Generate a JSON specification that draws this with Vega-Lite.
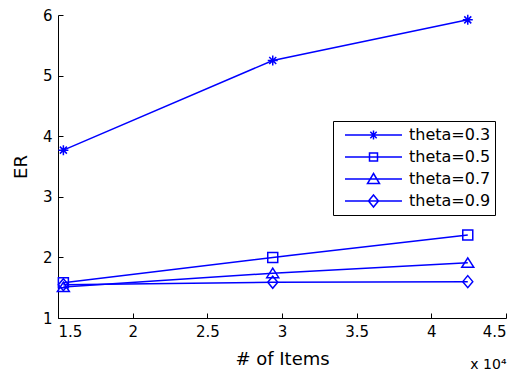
{
  "$schema": "https://vega.github.io/schema/vega-lite/v6.json",
  "width": 448,
  "height": 303,
  "autosize": "none",
  "padding": {"left": 58, "top": 15, "right": 15, "bottom": 53},
  "background": "white",
  "config": {
    "view": {"stroke": null},
    "font": "DejaVu Sans",
    "axis": {
      "grid": false,
      "domainColor": "black",
      "domainWidth": 1,
      "tickColor": "black",
      "tickWidth": 1,
      "tickSize": -5,
      "labelColor": "black",
      "labelFont": "DejaVu Sans",
      "labelFontSize": 15,
      "titleFont": "DejaVu Sans",
      "titleFontSize": 18,
      "titleFontWeight": "normal",
      "titleColor": "black"
    }
  },
  "title": {
    "text": "x 10⁴",
    "orient": "bottom",
    "anchor": "end",
    "font": "DejaVu Sans",
    "fontSize": 14,
    "fontWeight": "normal",
    "color": "black",
    "offset": -10
  },
  "data": {
    "values": [
      {"series": "theta=0.3", "items": 15360, "er": 3.77},
      {"series": "theta=0.3", "items": 29380, "er": 5.25},
      {"series": "theta=0.3", "items": 42440, "er": 5.92},
      {"series": "theta=0.5", "items": 15360, "er": 1.58},
      {"series": "theta=0.5", "items": 29380, "er": 2.0},
      {"series": "theta=0.5", "items": 42440, "er": 2.37},
      {"series": "theta=0.7", "items": 15360, "er": 1.51},
      {"series": "theta=0.7", "items": 29380, "er": 1.74},
      {"series": "theta=0.7", "items": 42440, "er": 1.91},
      {"series": "theta=0.9", "items": 15360, "er": 1.55},
      {"series": "theta=0.9", "items": 29380, "er": 1.59},
      {"series": "theta=0.9", "items": 42440, "er": 1.6}
    ]
  },
  "encoding": {
    "x": {
      "field": "items",
      "type": "quantitative",
      "scale": {"domain": [15000, 45000], "nice": false, "zero": false},
      "axis": {
        "values": [15000, 20000, 25000, 30000, 35000, 40000, 45000],
        "labelExpr": "format(datum.value / 10000, '.1~f')",
        "title": "# of Items",
        "labelPadding": 11,
        "titlePadding": 11
      }
    },
    "y": {
      "field": "er",
      "type": "quantitative",
      "scale": {"domain": [1, 6], "nice": false, "zero": false},
      "axis": {
        "values": [1, 2, 3, 4, 5, 6],
        "title": "ER",
        "labelPadding": 11,
        "titlePadding": 12
      }
    }
  },
  "layer": [
    {
      "mark": {"type": "line", "color": "#0000ff", "strokeWidth": 1.5},
      "encoding": {"detail": {"field": "series"}}
    },
    {
      "mark": {"type": "point", "filled": false, "color": "#0000ff", "strokeWidth": 1.5, "size": 100, "opacity": 1},
      "encoding": {
        "shape": {
          "field": "series",
          "type": "nominal",
          "scale": {
            "domain": ["theta=0.3", "theta=0.5", "theta=0.7", "theta=0.9"],
            "range": [
              "M-1,0H1M0,-1V1M-0.7,-0.7L0.7,0.7M-0.7,0.7L0.7,-0.7",
              "M-1,-1H1V1H-1Z",
              "M0,-1L1.2,0.9H-1.2Z",
              "M0,-1.2L1,0L0,1.2L-1,0Z"
            ]
          },
          "legend": null
        }
      }
    },
    {
      "mark": {"type": "point", "filled": false, "color": "#0000ff", "strokeWidth": 1.5, "size": 100, "opacity": 0},
      "encoding": {
        "shape": {
          "field": "series",
          "type": "nominal",
          "scale": {
            "domain": ["theta=0.3", "theta=0.5", "theta=0.7", "theta=0.9"],
            "range": [
              "M-0.222,0H6.111M2.944,-0.5V0.5M2.59,-0.354L3.298,0.354M2.59,0.354L3.298,-0.354",
              "M-0.222,0H6.111M2.5,-0.444H3.389V0.444H2.5Z",
              "M-0.222,0H6.111M2.944,-0.611L3.611,0.5H2.278Z",
              "M-0.222,0H6.111M2.944,-0.667L3.5,0L2.944,0.667L2.389,0Z"
            ]
          },
          "legend": {
            "orient": "none",
            "legendX": 275,
            "legendY": 106,
            "title": null,
            "strokeColor": "black",
            "fillColor": "white",
            "padding": 4,
            "symbolSize": 324,
            "symbolStrokeWidth": 1.5,
            "symbolStrokeColor": "#0000ff",
            "symbolFillColor": "transparent",
            "symbolOpacity": 1,
            "labelFont": "DejaVu Sans",
            "labelFontSize": 16,
            "labelColor": "black",
            "labelOffset": 52,
            "rowPadding": 4
          }
        }
      }
    }
  ],
  "resolve": {"scale": {"shape": "independent"}, "legend": {"shape": "independent"}}
}
